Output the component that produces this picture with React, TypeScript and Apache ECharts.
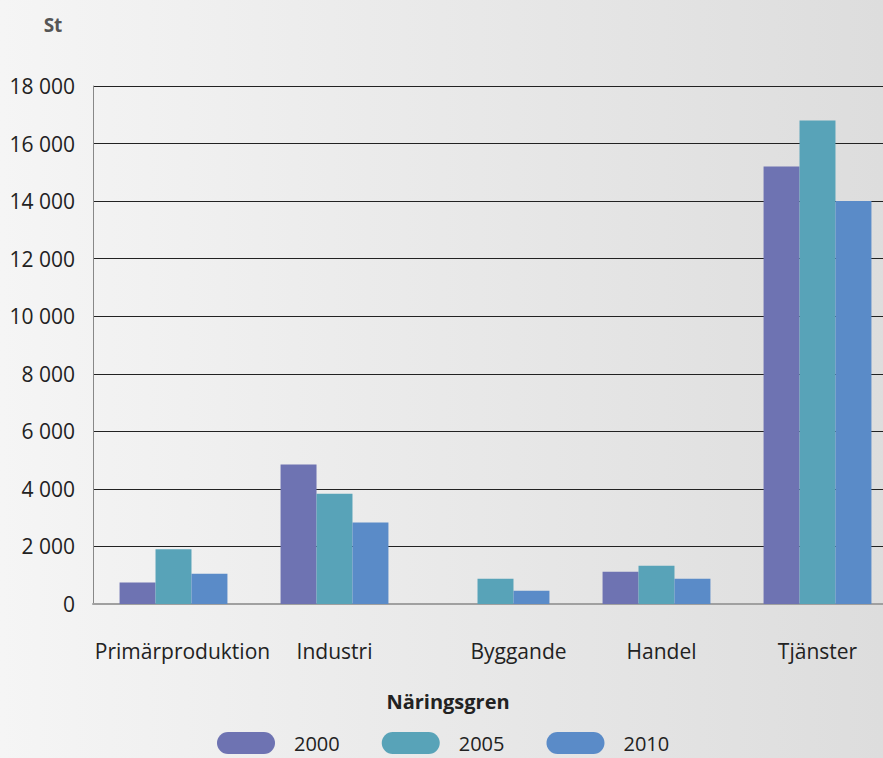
import React, { useEffect, useRef } from "react";
import * as echarts from "echarts";

const categories = ["Primärproduktion", "Industri", "Byggande", "Handel", "Tjänster"];
const years = ["2000", "2005", "2010"];
const values2000 = [750, 4850, 0, 1120, 15200];
const values2005 = [1900, 3830, 880, 1330, 16800];
const values2010 = [1050, 2830, 460, 880, 14000];
const yTicks = { min: 0, max: 18000, interval: 2000 };
const colors = ["#6e73b2", "#58a3b8", "#5a8bc8"];

const FONT = "'Open Sans', 'Noto Sans', sans-serif";
const PILL = "path://M11,0 L47,0 A11,11 0 0 1 47,22 L11,22 A11,11 0 0 1 11,0 Z";
const labelShift: Record<string, number> = { "Primärproduktion": 18, "Byggande": 46, "Handel": 10 };

export default function App() {
  const ref = useRef<HTMLDivElement>(null);
  useEffect(() => {
    if (!ref.current) return;
    const chart = echarts.init(ref.current, undefined, { renderer: "svg" });
    const seriesData = [values2000, values2005, values2010];
    const lab = { fontSize: 21, color: "#222", fontFamily: FONT };
    chart.setOption({
      animation: false,
      backgroundColor: new echarts.graphic.LinearGradient(0, 0, 1, 0, [
        { offset: 0, color: "#f5f5f5" },
        { offset: 1, color: "#dddddd" },
      ]),
      textStyle: { fontFamily: FONT },
      grid: { left: 93, width: 805, top: 86, bottom: 154, outerBoundsMode: "none", containLabel: false },
      graphic: [
        {
          type: "text",
          x: 53,
          y: 25,
          style: {
            text: "St",
            fontSize: 19,
            fontWeight: "bold",
            fill: "#555",
            fontFamily: FONT,
            textAlign: "center",
            textVerticalAlign: "middle",
          },
        },
        {
          type: "text",
          x: 448,
          y: 701,
          style: {
            text: "Näringsgren",
            fontSize: 20,
            fontWeight: "bold",
            fill: "#222",
            fontFamily: FONT,
            textAlign: "center",
            textVerticalAlign: "middle",
          },
        },
      ],
      legend: {
        data: years.map((y) => ({ name: y, icon: PILL })),
        top: 727,
        left: 212,
        itemWidth: 58,
        itemHeight: 22,
        itemGap: 42,
        textStyle: {
          fontSize: 20,
          color: "#222",
          fontFamily: FONT,
          padding: [0, 0, 0, 14],
        },
      },
      xAxis: {
        type: "category",
        data: categories,
        axisLine: { lineStyle: { color: "#a0a0a0", width: 2 } },
        axisTick: { show: false },
        axisLabel: {
          interval: 0,
          ...lab,
          margin: 36,
          formatter: (v: string) => (labelShift[v] ? "{s" + labelShift[v] + "|" + v + "}" : v),
          rich: {
            s18: { ...lab, padding: [0, 0, 0, 18] },
            s46: { ...lab, padding: [0, 0, 0, 46] },
            s10: { ...lab, padding: [0, 0, 0, 10] },
          },
        },
      },
      yAxis: {
        type: "value",
        min: yTicks.min,
        max: yTicks.max,
        interval: yTicks.interval,
        axisLine: { show: true, lineStyle: { color: "#888", width: 1 } },
        axisTick: { show: false },
        splitLine: { lineStyle: { color: "#222", width: 1.2 } },
        axisLabel: {
          ...lab,
          margin: 18,
          formatter: (v: number) => String(v).replace(/\B(?=(\d{3})+(?!\d))/g, " "),
        },
      },
      series: years.map((y, i) => ({
        name: y,
        type: "bar",
        data: seriesData[i],
        barGap: "0%",
        barCategoryGap: "33%",
        itemStyle: { color: colors[i] },
      })),
    });
    return () => chart.dispose();
  }, []);
  return <div ref={ref} style={{ position: "fixed", left: 0, top: 0, width: 883, height: 758 }} />;
}
